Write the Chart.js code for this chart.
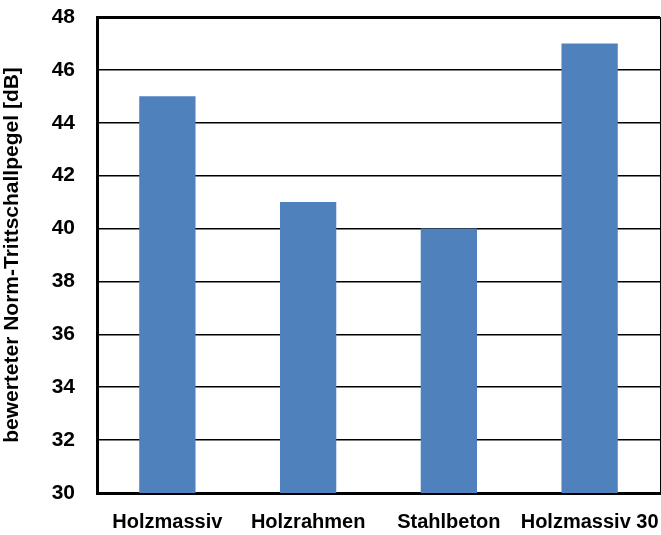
<!DOCTYPE html>
<html>
<head>
<meta charset="utf-8">
<script src="https://cdn.jsdelivr.net/npm/chart.js@4.4.0/dist/chart.umd.min.js"></script>
<style>
  html, body { margin: 0; padding: 0; background: #fff; }
  #wrap { width: 661px; height: 535px; }
</style>
</head>
<body>
<div id="wrap"><canvas id="grafico"></canvas></div>
<script>
// datos
const categorias = ['Holzmassiv', 'Holzrahmen', 'Stahlbeton', 'Holzmassiv 30'];
const valores = [45, 41, 40, 47];
const yMin = 30;
const yMax = 48;
const yPaso = 2;
const tituloY = 'bewerteter Norm-Trittschallpegel [dB]';

const fuente = "'Liberation Sans Narrow', 'Arial Narrow', 'Liberation Sans', Arial, sans-serif";

let grafico = new Chart(document.getElementById('grafico'), {
    type: 'bar',
    data: {
        labels: categorias,
        datasets: [{
            data: valores,
            backgroundColor: '#4F81BD',
            borderWidth: 0,
            categoryPercentage: 0.4,
            barPercentage: 1
        }]
    },
    options: {
        responsive: true,
        maintainAspectRatio: false,
        animation: false,
        layout: { padding: { top: 17, right: 1, left: 0, bottom: 0 } },
        plugins: {
            legend: { display: false },
            tooltip: { enabled: false }
        },
        scales: {
            x: {
                grid: {
                    // solo la línea del borde derecho
                    color: (ctx) => ctx.tick ? 'transparent' : '#000',
                    lineWidth: 1,
                    drawTicks: false
                },
                border: { color: '#000', width: 3 },
                ticks: {
                    color: '#000',
                    padding: 17,
                    maxRotation: 0,
                    autoSkip: false,
                    font: { family: fuente, size: 20, weight: 'bold' }
                },
                afterFit: (scale) => {
                    scale.height = 42;
                    scale.paddingLeft = 0;
                    scale.paddingRight = 0;
                }
            },
            y: {
                min: yMin,
                max: yMax,
                ticks: {
                    stepSize: yPaso,
                    color: '#000',
                    padding: 22,
                    font: { family: fuente, size: 21, weight: 'bold' }
                },
                grid: {
                    color: '#000',
                    lineWidth: (ctx) => ctx.tick && ctx.tick.value === yMax ? 3 : 1.5,
                    drawTicks: false
                },
                border: { color: '#000', width: 3 },
                title: {
                    display: true,
                    text: tituloY,
                    color: '#000',
                    padding: { top: 0, bottom: 2 },
                    font: { family: fuente, size: 21, weight: 'bold' }
                },
                afterFit: (scale) => {
                    scale.width = 97;
                    scale.paddingTop = 0;
                    scale.paddingBottom = 0;
                }
            }
        }
    }
});
</script>
</body>
</html>
